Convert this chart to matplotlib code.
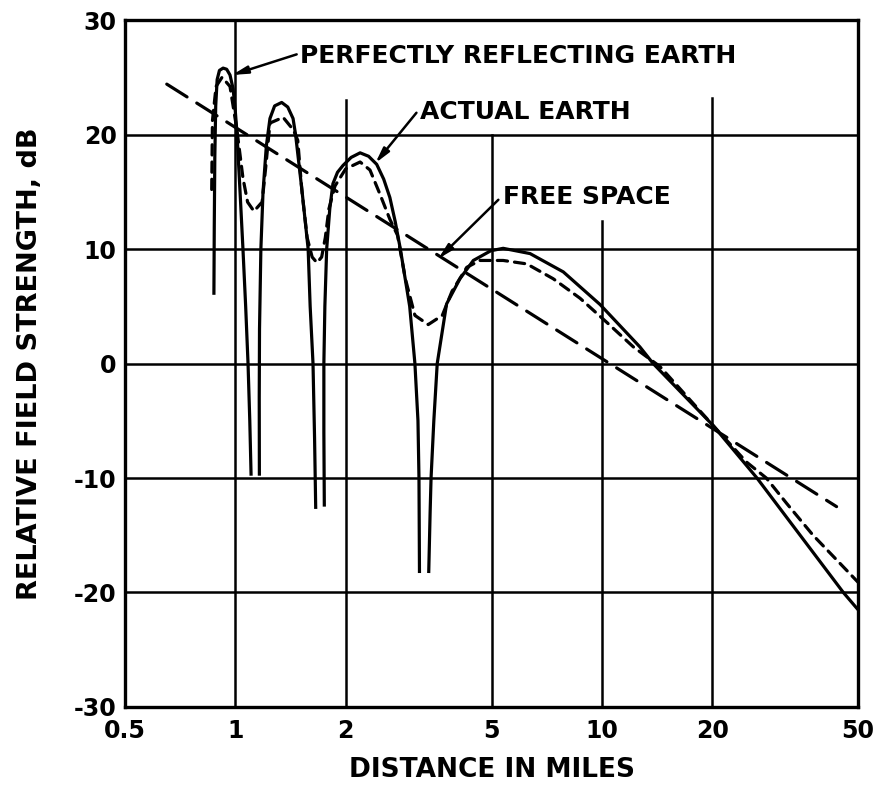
import numpy as np
import matplotlib
matplotlib.use("Agg")
import matplotlib.pyplot as plt
from matplotlib.ticker import NullLocator, FixedLocator, FixedFormatter

plt.rcParams["font.family"] = ["DejaVu Sans"]
plt.rcParams["font.weight"] = "bold"
plt.rcParams["axes.unicode_minus"] = False

nan = np.nan

# --- data (distance in miles, field strength in dB) ---
# perfectly reflecting earth: one run per lobe, NaN breaks at the nulls
reflect_miles = [
    0.874, 0.876, 0.879, 0.884, 0.892, 0.905, 0.926, 0.947, 0.967, 0.986,
    1.000, 1.010, 1.030, 1.049, 1.067, 1.083, 1.095, 1.104, nan,
    1.163, 1.162, 1.164, 1.174, 1.19, 1.215, 1.243, 1.28, 1.338, 1.39,
    1.437, 1.46, 1.52, 1.58, 1.60, 1.629, 1.645, 1.657, nan,
    1.749, 1.744, 1.744, 1.755, 1.775, 1.81, 1.846, 1.90, 1.967, 2.07,
    2.19, 2.31, 2.43, 2.54, 2.64, 2.73, 2.82, 2.99, 3.09, 3.15, 3.17, 3.18, nan,
    3.37, 3.40, 3.42, 3.48, 3.555, 3.77, 4.10, 4.46, 4.98, 5.38, 6.37,
    7.85, 9.89, 12.7, 13.8, 20.1, 26.5, 45.6, 50.0,
]
reflect_db = [
    6.0, 12.0, 18.0, 22.5, 24.8, 25.6, 25.8, 25.7, 25.2, 24.0,
    22.0, 20.2, 15.0, 10.0, 5.0, 0.0, -5.0, -9.8, nan,
    -9.8, -3.0, 3.0, 10.0, 15.0, 19.0, 21.4, 22.5, 22.8, 22.4,
    21.4, 20.0, 15.1, 10.0, 5.0, 0.0, -6.5, -12.7, nan,
    -12.5, -6.0, 0.0, 5.0, 10.0, 13.5, 15.7, 16.7, 17.3, 18.0,
    18.4, 18.1, 17.4, 16.1, 14.5, 12.4, 10.0, 5.0, 0.0, -5.0, -10.0, -18.3, nan,
    -18.3, -13.0, -10.0, -5.0, 0.0, 5.2, 7.4, 9.0, 9.85, 10.06, 9.6,
    8.0, 5.15, 1.45, 0.0, -5.4, -10.0, -20.0, -21.5,
]

# actual earth
actual_miles = [
    0.862, 0.866, 0.886, 0.92, 0.967, 1.01, 1.049, 1.08, 1.124, 1.183,
    1.21, 1.243, 1.35, 1.44, 1.48, 1.52, 1.57, 1.62, 1.67, 1.72, 1.76,
    1.80, 1.87, 2.0, 2.19, 2.33, 2.48, 2.64, 2.77, 2.91, 3.09, 3.36,
    3.67, 3.90, 4.28, 4.65, 5.38, 6.24, 7.37, 8.72, 10.31, 12.19, 14.4,
    20.1, 24.8, 28.1, 31.9, 37.7, 50.0,
]
actual_db = [
    15.2, 21.2, 24.2, 25.0, 24.2, 20.4, 16.2, 14.1, 13.3, 14.1,
    17.1, 21.0, 21.5, 20.4, 19.5, 15.0, 11.0, 9.3, 8.8, 9.3, 11.0,
    13.5, 15.5, 17.0, 17.6, 16.9, 14.8, 12.6, 11.2, 7.4, 4.2, 3.4,
    4.2, 6.3, 8.4, 9.0, 9.0, 8.7, 7.4, 5.7, 3.6, 1.45, -0.26,
    -5.4, -8.6, -10.0, -12.2, -15.0, -19.1,
]

# free space (straight line on this log scale)
free_miles = [0.65, 43.7]
free_db = [24.4, -12.5]

x_ticks = [0.5, 1, 2, 5, 10, 20, 50]
x_labels = ["0.5", "1", "2", "5", "10", "20", "50"]
y_ticks = [-30, -20, -10, 0, 10, 20, 30]
y_labels = ["-30", "-20", "-10", "0", "10", "20", "30"]

fig = plt.figure(figsize=(8.81, 7.88), dpi=100)
ax = fig.add_axes([0.1419, 0.1028, 0.832, 0.8718])
ax.set_xscale("log")
ax.set_xlim(0.5, 50)
ax.set_ylim(-30, 30)

# grid, drawn by hand so the vertical lines can stop under the labels
for y in [-20, -10, 0, 10, 20]:
    ax.axhline(y, color="black", lw=1.8, zorder=1)
grid_tops = {1: 1.0, 2: 0.883, 5: 0.833, 10: 0.707, 20: 0.887}
for x, top in grid_tops.items():
    ax.axvline(x, ymin=0, ymax=top, color="black", lw=1.8, zorder=1)

lw = 2.3
ax.plot(reflect_miles, reflect_db, color="black", lw=lw, zorder=3,
        solid_capstyle="butt")
ax.plot(actual_miles, actual_db, color="black", lw=lw, zorder=3,
        linestyle=(0, (3.2, 2.2)), dash_capstyle="round")
ax.plot(free_miles, free_db, color="black", lw=lw, zorder=3,
        linestyle=(0, (7.5, 3.6)), dash_capstyle="round")

# labels with arrows
arrow = dict(arrowstyle="-|>,head_length=0.9,head_width=0.22",
             color="black", lw=1.8, shrinkA=0, shrinkB=0)
lab_kw = dict(fontsize=18, fontweight="bold", va="center", ha="left")
ax.text(1.50, 26.9, "PERFECTLY REFLECTING EARTH", **lab_kw)
ax.annotate("", xy=(0.98, 25.2), xytext=(1.47, 27.0), arrowprops=arrow)
ax.text(3.19, 22.0, "ACTUAL EARTH", **lab_kw)
ax.annotate("", xy=(2.41, 17.5), xytext=(3.12, 21.9), arrowprops=arrow)
ax.text(5.37, 14.5, "FREE SPACE", **lab_kw)
ax.annotate("", xy=(3.58, 9.15), xytext=(5.22, 14.3), arrowprops=arrow)

ax.xaxis.set_major_locator(FixedLocator(x_ticks))
ax.xaxis.set_major_formatter(FixedFormatter(x_labels))
ax.xaxis.set_minor_locator(NullLocator())
ax.set_yticks(y_ticks)
ax.set_yticklabels(y_labels)
ax.tick_params(axis="both", length=0, labelsize=17)
ax.tick_params(axis="x", pad=9)
ax.tick_params(axis="y", pad=6)

for sp in ax.spines.values():
    sp.set_linewidth(2.4)
    sp.set_zorder(4)

ax.set_xlabel("DISTANCE IN MILES", fontsize=19, fontweight="bold", labelpad=10)
ax.set_ylabel("RELATIVE FIELD STRENGTH, dB", fontsize=19.5, fontweight="bold",
              labelpad=22)

fig.savefig("out.png", dpi=100, facecolor="white")
